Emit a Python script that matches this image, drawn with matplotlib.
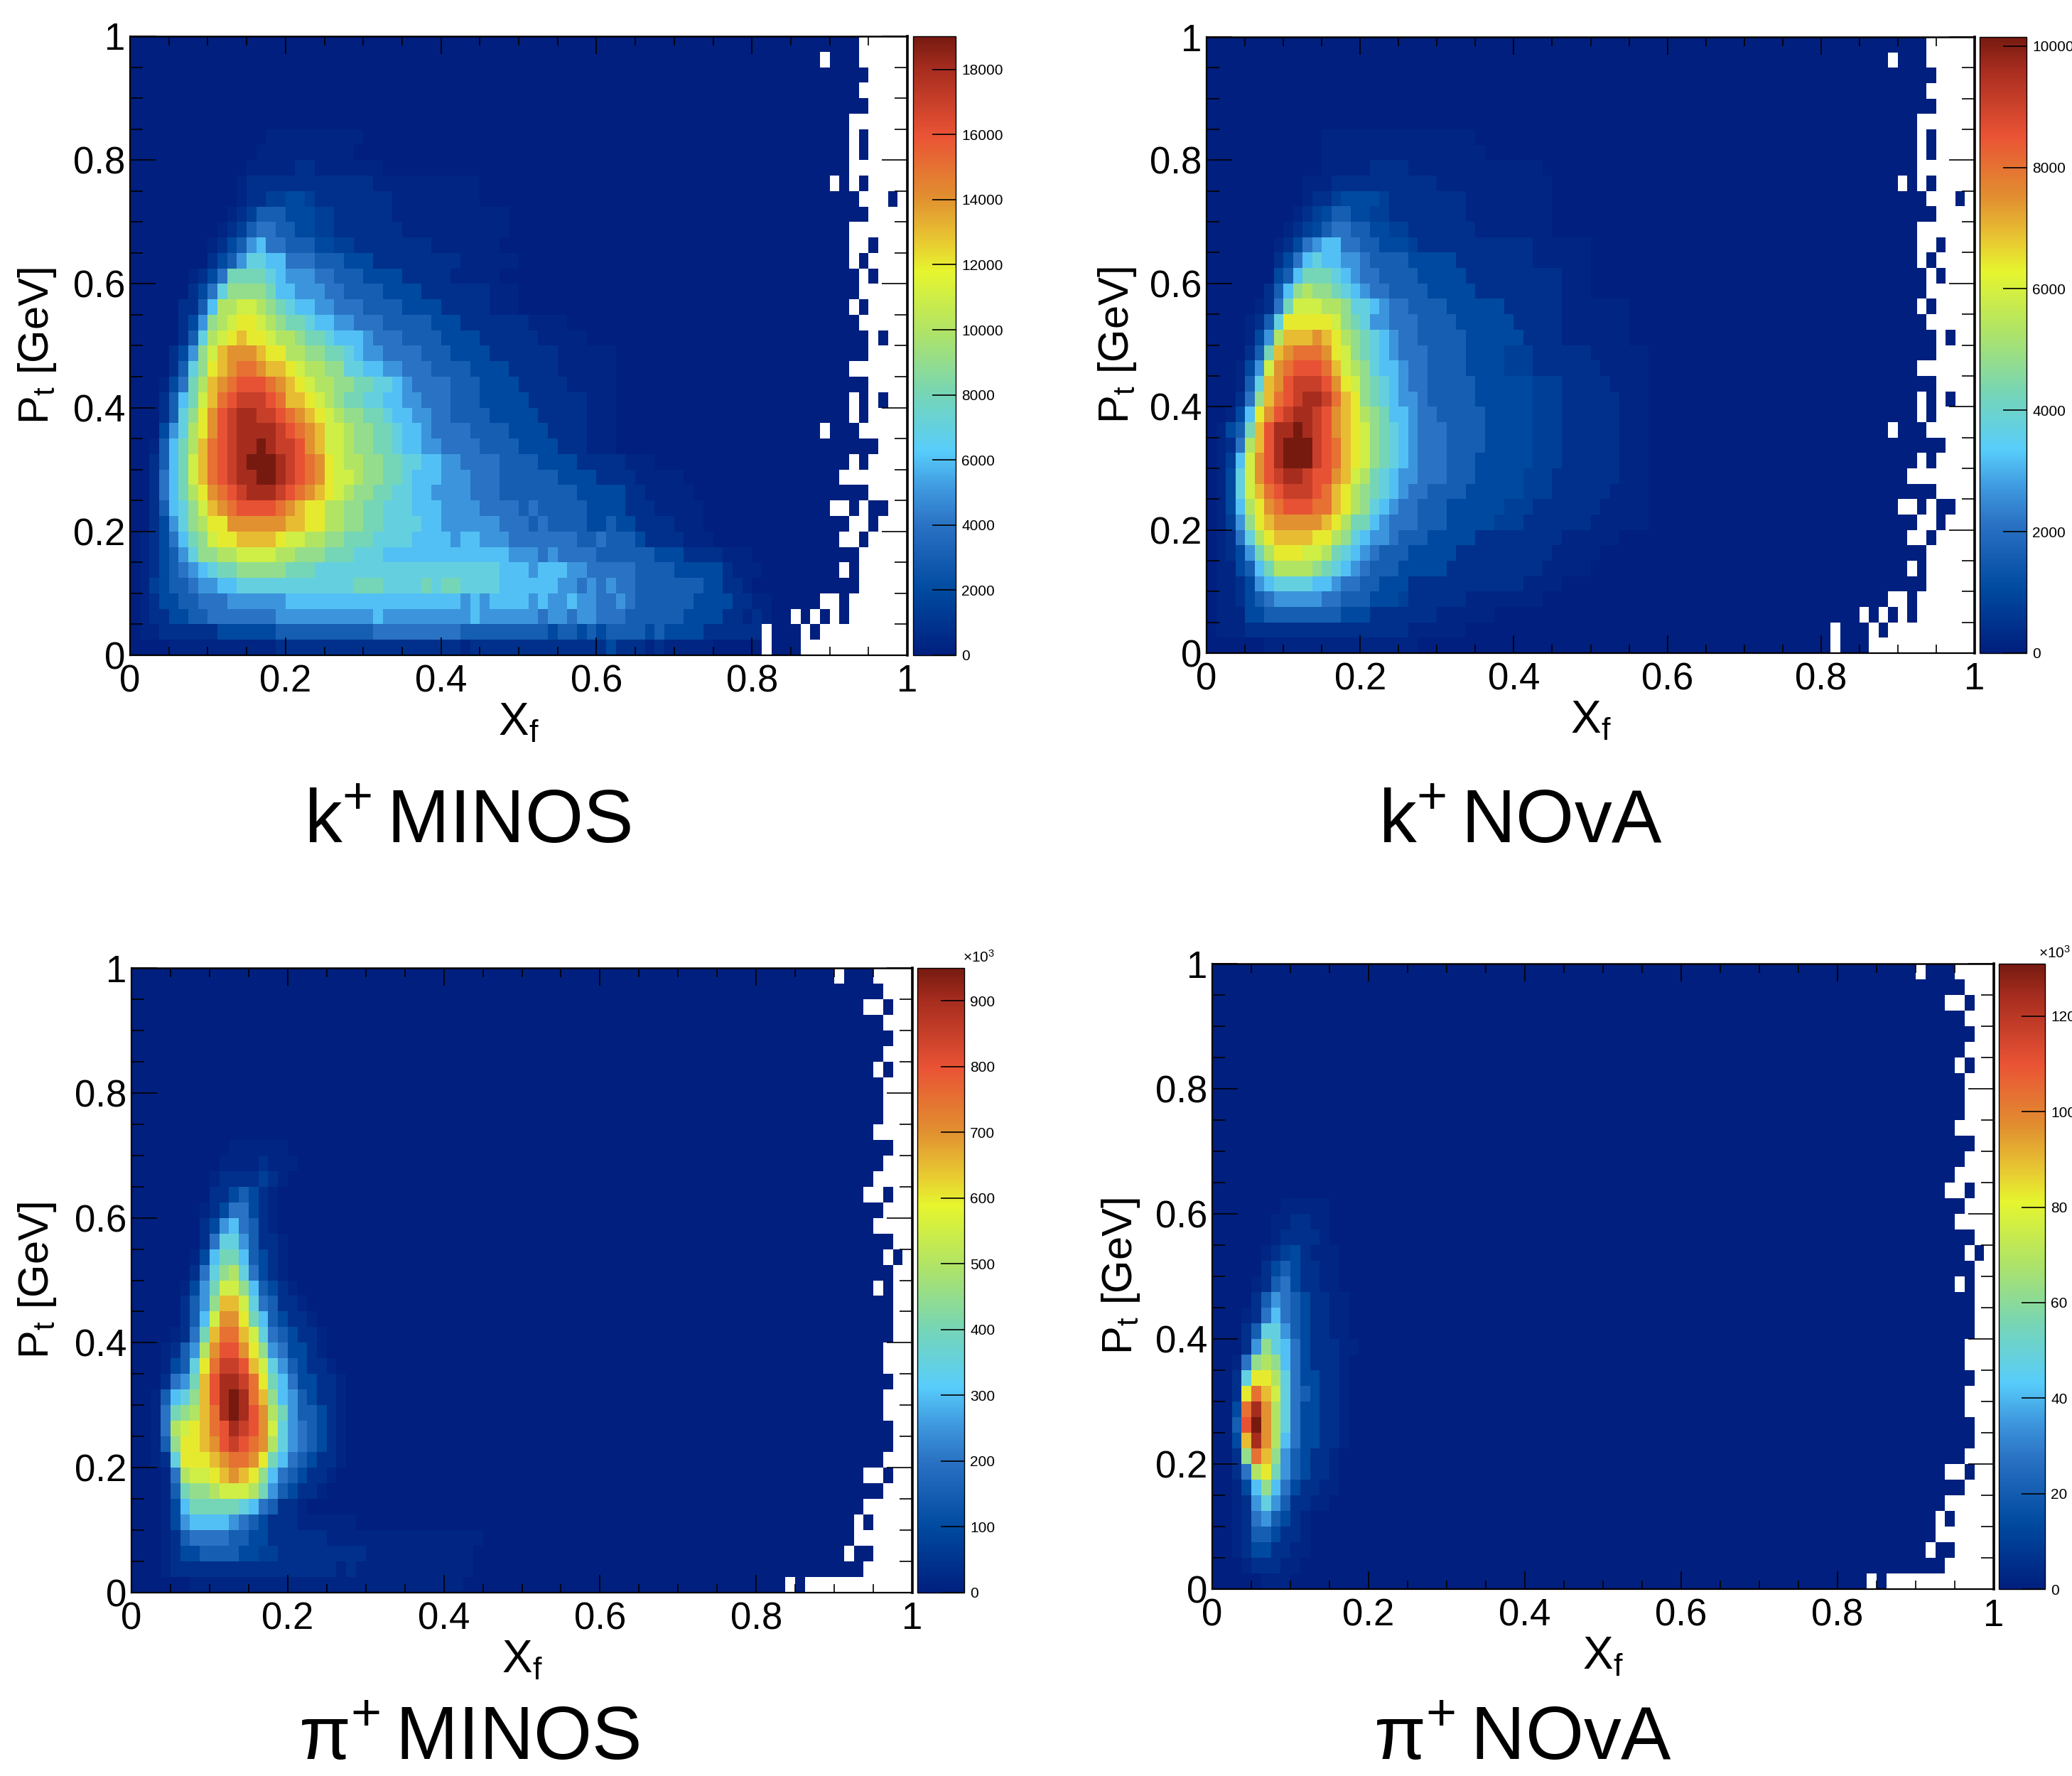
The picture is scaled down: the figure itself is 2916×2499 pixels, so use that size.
import numpy as np
import matplotlib
matplotlib.use("Agg")
import matplotlib.pyplot as plt
from matplotlib.colors import LinearSegmentedColormap
from matplotlib.ticker import MultipleLocator, FixedLocator

plt.rcParams['font.family'] = ['Liberation Sans', 'DejaVu Sans']
plt.rcParams['mathtext.fontset'] = 'custom'
plt.rcParams['mathtext.rm'] = 'Liberation Sans'
plt.rcParams['mathtext.default'] = 'regular'

W, H = 2916, 2499

# bin contents, top row first, one char per bin on the
# colour scale: 0 - 1 = 2 3 ... 9 a b ... j (j is the top of the palette, - and = are halves)
KAON_MINOS = [
    "", "", "", "", "", "",
    "0000000000 0000------ ----",
    "0000000000 000------- ---",
    "0000000000 00-----11- ------",
    "0000000000 0-11111111 11111----- ------",
    "0000000000 0-11==22=1 1111111--- ------",
    "0000000000 -1=333222= =111111--- ---------",
    "000000000- 1=34433 22= =1111111-- ---------",
    "00000000-1 2356443332 2==1111111 1-------",
    "0000000012 3577664443 3322211111 1111------",
    "000000-124 8888765554 4333222211 111-----",
    "0000001247 9999866555 4433332222 1111111---",
    "000001136a abba987665 5444333322 2211111---",
    "000001259a bccba98876 6554443333 3222111111 1----",
    "00000137ab cdccbaa988 7666544433 3322221111 11-----",
    "000012 59bd eeedccaa99 8876554444 3332222111 1111------",
    "000013 79cd effeddcbaa 9977665544 4333322221 1111------",
    "000-248ade fgggfedcba a998877654 4443332222 11111-----",
    "0001368bdf ghhhgfddcb a988776655 4443332222 2111111---",
    "0001379ceg hiihhgfedc ba99887665 5443333222 2211111---",
    "00025 7aceg hiiiihgfed bba9988766 5444433332 2221111---",
    "00-368adfg hiijihhged bba9988766 5544443333 2222111---",
    "001368bdfg hijjjihgfe cbaa998877 6655444433 3322221111 1---",
    "001468bdfg hiijjihgfe cbba998876 6655544433 3333222211 11-----",
    "001468acef ghiiihgfed cba9988776 6555544433 3333332222 211-----",
    "0013679bde fggggfedcc aa99887776 6655554444 3433333222 2111-----",
    "001257 9acc eeeeeeddcc aa99887777 6655555544 4343333223 221111---",
    "0-12468 9bc cddddcbbaa 9988877776 6665665554 4444443343 3321111---",
    "0-12357 99a abbbbaa999 8887776666 6666666665 5545444433 3333222111 1---",
    "0-12345678 8999998887 7777777777 7777777766 6566655444 4433332222 21---",
    "0-=2334556 6777777777 7778887777 8788777766 6666554545 4433333332 211-",
    "0-12233444 5555556666 6666666666 6666565666 6565565544 5433333322 2211--",
    "0-11223344 4444455555 5555565555 5555565555 5545545544 4333333222 211-1-",
    "0--1111112 2222233333 3333344444 4444333333 3332332323 3332322221 11111-",
    "0000------ -----11111 1111111111 1111-11111 1111111112 111-1-----",
]

KAON_NOVA = [
    "", "", "", "", "", "",
    "0000000000 00-------- --------",
    "0000000000 00-------- ---------",
    "0000000000 00-----111 1--------- -----",
    "0000000000 ---1111111 1111------ ------",
    "0000000000 -11=2222=1 1111111--- ------",
    "000000000- 1=23322==1 1111111--- ------",
    "00000000-1 =234433 22= =1111111-- ------",
    "0000000-12 4566443322 2=11111111 1111------",
    "0000000124 6766554333 3222221111 1111------",
    "0000000236 8887654433 3322222111 1111111---",
    "0000001369 a998765443 3332222211 1111111---",
    "00000-148b bbaa977654 4333322222 2111111--- ----",
    "0000-137cc cccb987554 4433332222 2211111--- ----",
    "0000-25add dedca98765 4433333222 2221111--- ----",
    "0000138def ffecb98765 4443333222 2===111111 ------",
    "000-25befg ggfdba9766 5443333222 2===111111 1-----",
    "000-37degh hhgecb9876 5443333322 2222===111 11----",
    "0001 49dfgh iihfdc9876 5543333322 2222===111 111---",
    "00-26ceghi ihgedca986 6544333332 2222===111 111---",
    "0-238dgiij ihgedcb987 6544433332 2222===111 111---",
    "0-14adgijj jhgfdcb987 6544433332 2222===111 111---",
    "0-=6begijj jhgfdcb987 6544433322 2222===111 111---",
    "0-27beghii hggedba876 5544433322 222===1111 111---",
    "0-27bdfghh hgfdca9876 5443333222 222===1111 11----",
    "0-26acefgg gffdca9765 4433322222 2===111111 1-----",
    "0-=59cdeee eedca88654 4433322222 ===1111111 ------",
    "0-147acddd dcca976554 3332222211 1111111--- ---",
    "0-1258accc bba8765433 3222221111 111111---- -",
    "0--2368aaa a987654333 2222211111 11111-----",
    "0--1256777 7665443322 2111111111 111----",
    "0--1234555 5544333222 =111111--- -----",
    "0---223333 3333222111 1111------",
    "0---111111 1111111111 1------",
    "000000---- ---------- --",
]

PION_MINOS = [
    "", "", "", "", "", "", "", "", "", "", "",
    "0000000000 ------",
    "000000000- ---1---",
    "00000000-1 111=1-",
    "0000000011 2321-",
    "0000000-12 4421-",
    "0000000125 6431-",
    "0000000147 75311-",
    "000000-268 86321-",
    "0000001479 a7421-",
    "00000-258b b96321-",
    "0000013 59d db74311-",
    "0000013 6be ec863211-",
    "0000-148df fdb743211-",
    "000-135aeg gec95 4221-",
    "000-237cfh hgdb753211 -",
    "000145 8dgi ihfc864221 1-",
    "00-3679dgi jifd965321 1-",
    "00-489adfi jigea85332 1-",
    "00-4abcdfg ihgeb75432 1-",
    "00-39ccdeg hgfea75432 1-",
    "00-17cccde ffec864321 1-",
    "000-4abbcd edc9643211 -",
    "000-3899ab bba853211-",
    "000-268888 87643 11-",
    "000-256666 5432111--- ---",
    "000-134444 3322111111 ---------- ------",
    "000-122333 322==11111 1111------ -----",
    "000-111111 1111111111 1-1------- -----",
    "000000---- ---------- ---------- ----",
]

PION_NOVA = [
    "", "", "", "", "", "", "", "", "", "", "", "", "", "", "",
    "0000000--- --",
    "000000--11 --",
    "000000-111 1-",
    "00000-1=21 ---",
    "0000012321 1--",
    "0000-13421 1--",
    "0000135432 11--",
    "000-146432 11--",
    "0001377532 11--",
    "0001597642 111--",
    "00-49a9642 111-",
    "0017cca742 211-",
    "001cfdb743 211-",
    "002fiea742 211-",
    "003gjea742 211-",
    "002diea642 211-",
    "0019fd9532 11-",
    "0014ac8532 11-",
    "00-2696421 1--",
    "00-1575311 --",
    "00-14 5321-",
    "00-13 3211-",
    "00-12211--",
    "000-111--",
    "00000---",
]

# empty bins for x bins 64..79, top row first (# filled, . empty)
KAON_EMPTY = [
    "###########.....", "#######.###.....", "############....", "###########.....",
    "############....", "##########......", "##########.#....", "##########.#....",
    "##########......", "########.#.#....", "###########...#.", "############....",
    "##########......", "##########..#...", "##########.#....", "###########.#...",
    "###########.....", "##########.#....", "###########.....", "############.#..",
    "############....", "##########......", "############....", "##########.#.#..",
    "##########.#....", "#######.###.....", "#############...", "##########.#....",
    "#########.......", "############....", "########..#.##..", "##########..#...",
    "#########..#....", "###########.....", "#########.#.....", "###########.....",
    "#######..#......", "####.#.#.#......", "#.###.#.........", "#.###...........",
]

PION_EMPTY = [
    "########.###....", "#############...", "###########..#..", "#############...",
    "##############..", "#############...", "############.#..", "#############...",
    "#############...", "#############...", "############....", "##############..",
    "#############...", "############....", "###########..#..", "#############...",
    "############....", "##############..", "#############.#.", "##############..",
    "############.#..", "##############..", "##############..", "##############..",
    "#############...", "#############...", "##############..", "#############...",
    "#############...", "##############..", "##############..", "#############...",
    "###########..#..", "#############...", "###########.....", "##########.#....",
    "##########......", "#########.##....", "###########.....", "###.#...........",
]

TITLES = [r"k$^{+}\,$MINOS", r"k$^{+}\,$NOvA", r"π$^{+}\,$MINOS", r"π$^{+}\,$NOvA"]
Z_MAX = [19020, 10150, 950, 131]
Z_TICKS = [
    [0, 2000, 4000, 6000, 8000, 10000, 12000, 14000, 16000, 18000],
    [0, 2000, 4000, 6000, 8000, 10000],
    [0, 100, 200, 300, 400, 500, 600, 700, 800, 900],
    [0, 20, 40, 60, 80, 100, 120],
]
X_TICK_LABELS = ["0", "0.2", "0.4", "0.6", "0.8", "1"]
Y_TICK_LABELS = ["0", "0.2", "0.4", "0.6", "0.8", "1"]

# palette sampled from the colour bars
palette = LinearSegmentedColormap.from_list("root_rainbow", [
    (0.0, "#001f7e"), (0.105, "#004aa0"), (0.21, "#2a72c4"), (0.27, "#3f9adf"),
    (0.33, "#58cdfb"), (0.42, "#75d5b8"), (0.52, "#aee368"), (0.62, "#e6f52e"),
    (0.67, "#e8c832"), (0.74, "#e18f30"), (0.84, "#ea5335"), (0.95, "#a52c1e"),
    (1.0, "#761a10"),
], N=512)
palette.set_bad("white")

CODES = {"-": 0.3, "=": 1.5}
for i, ch in enumerate("0123456789abcdefghij"):
    CODES[ch] = float(i)
CODES["1"] = 0.8


def decode(rows, empty, zmax):
    out = np.zeros((40, 80))
    for j, row in enumerate(rows):
        row = row.replace(" ", "")[:80].ljust(80, "0")
        out[39 - j] = [CODES[c] / 19.0 * zmax for c in row]
    mask = np.zeros((40, 80), dtype=bool)
    for j, row in enumerate(empty):
        mask[39 - j, 64:] = [c == "." for c in row]
    return np.ma.masked_where(mask, out)


def px_axes(fig, left, top, right, bottom):
    return fig.add_axes((left / W, 1 - bottom / H, (right - left) / W, (bottom - top) / H))


def draw_panel(fig, rows, empty, zmax, zticks, box, cbox, title, title_xy, ylab_x, exp_right=None):
    ax = px_axes(fig, *box)
    xedges = np.linspace(0, 1, 81)
    yedges = np.linspace(0, 1, 41)
    mesh = ax.pcolormesh(xedges, yedges, decode(rows, empty, zmax), cmap=palette, vmin=0, vmax=zmax)

    ax.set_xlim(0, 1)
    ax.set_ylim(0, 1)
    ax.set_xticks(np.arange(0, 1.01, 0.2), X_TICK_LABELS)
    ax.set_yticks(np.arange(0, 1.01, 0.2), Y_TICK_LABELS)
    ax.xaxis.set_minor_locator(MultipleLocator(0.05))
    ax.yaxis.set_minor_locator(MultipleLocator(0.05))
    ax.tick_params(axis='x', which='major', direction='in', top=True, length=18, width=1.2, labelsize=38, pad=9)
    ax.tick_params(axis='x', which='minor', direction='in', top=True, length=9, width=1.2)
    ax.tick_params(axis='y', which='major', direction='in', right=True, length=26, width=1.2, labelsize=38, pad=5)
    ax.tick_params(axis='y', which='minor', direction='in', right=True, length=13, width=1.2)
    for side in ax.spines:
        ax.spines[side].set_linewidth(1.6)
    ax.spines['right'].set_linewidth(2.6)
    ax.spines['top'].set_linewidth(1.8)

    xmid = (box[0] + box[2]) / 2
    fig.text(xmid / W, 1 - (box[3] + 96) / H, "X$_{f}$", fontsize=46, ha='center', va='center')
    fig.text(ylab_x / W, 1 - (box[1] + box[3]) / 2 / H, "P$_{t}$ [GeV]", fontsize=43,
             rotation=90, ha='center', va='center')
    fig.text(title_xy[0] / W, 1 - title_xy[1] / H, title, fontsize=76, ha='center', va='baseline')

    cax = px_axes(fig, *cbox)
    cbar = fig.colorbar(mesh, cax=cax)
    cbar.ax.yaxis.set_major_locator(FixedLocator(zticks))
    cbar.ax.tick_params(which='major', direction='in', length=24, width=1.2, labelsize=15, pad=6)
    cbar.ax.minorticks_off()
    cbar.outline.set_linewidth(1.0)
    if exp_right is not None:
        fig.text(exp_right / W, 1 - (cbox[1] - 4) / H, r"$\times$10$^{3}$", fontsize=15,
                 ha='right', va='bottom')
    return ax


fig = plt.figure(figsize=(W / 100, H / 100), dpi=100)
fig.patch.set_facecolor("white")

draw_panel(fig, KAON_MINOS, KAON_EMPTY, Z_MAX[0], Z_TICKS[0], (183, 51, 1277, 922), (1285, 51, 1345, 922),
           TITLES[0], (658, 1186), 52)
draw_panel(fig, KAON_NOVA, KAON_EMPTY, Z_MAX[1], Z_TICKS[1], (1698, 52, 2779, 919), (2786, 52, 2852, 919),
           TITLES[1], (2140, 1186), 1572)
draw_panel(fig, PION_MINOS, PION_EMPTY, Z_MAX[2], Z_TICKS[2], (185, 1362, 1284, 2241), (1291, 1362, 1357, 2241),
           TITLES[2], (660, 2476), 52, exp_right=1400)
draw_panel(fig, PION_NOVA, PION_EMPTY, Z_MAX[3], Z_TICKS[3], (1706, 1356, 2806, 2236), (2813, 1356, 2878, 2236),
           TITLES[3], (2143, 2476), 1577, exp_right=2914)

fig.savefig("out.png", dpi=100)
